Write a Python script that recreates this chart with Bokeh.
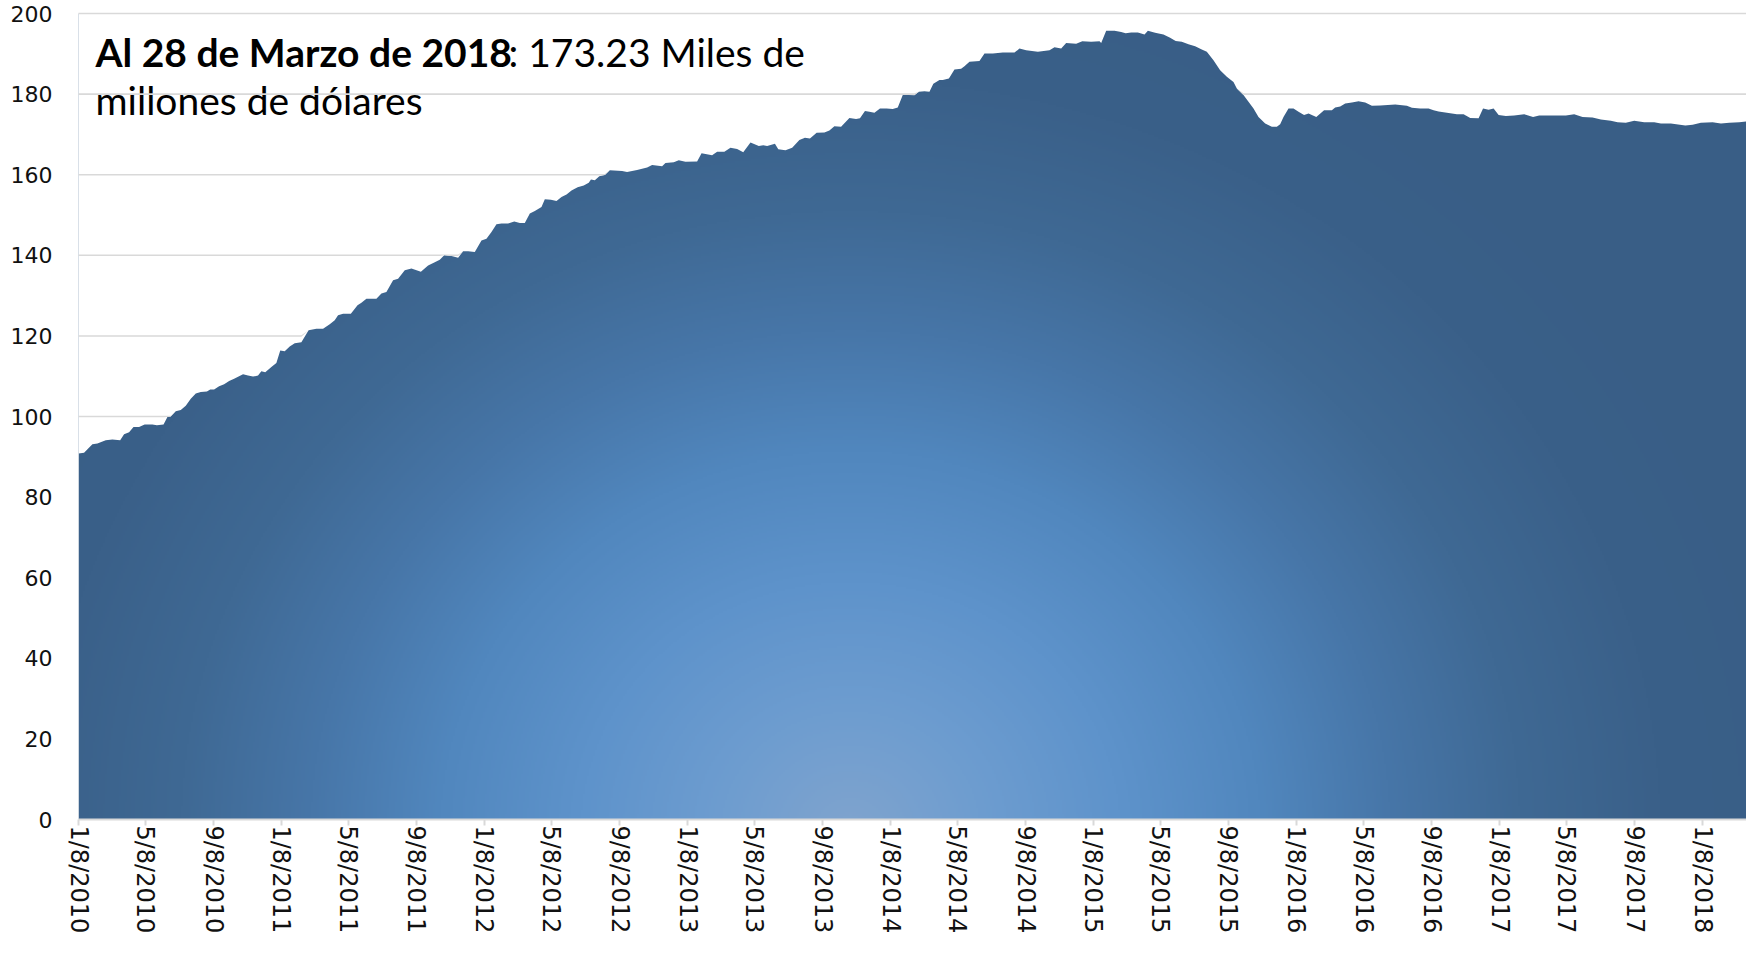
import numpy as np
import pandas as pd
from bokeh.plotting import figure
from bokeh.models import FixedTicker, Label
from bokeh.embed import file_html
from bokeh.resources import INLINE

# ---------------- data ----------------
dates = [
    "2010-01-08", "2010-01-18", "2010-02-02", "2010-02-11", "2010-02-26", "2010-03-10", "2010-03-24",
    "2010-03-31", "2010-04-09", "2010-04-17", "2010-04-27", "2010-05-07", "2010-05-21", "2010-05-29",
    "2010-06-10", "2010-06-17", "2010-06-23", "2010-07-02", "2010-07-11", "2010-07-20", "2010-07-29",
    "2010-08-07", "2010-08-16", "2010-08-27", "2010-09-02", "2010-09-09", "2010-09-18", "2010-09-27",
    "2010-10-06", "2010-10-15", "2010-10-31", "2010-11-09", "2010-11-18", "2010-11-27", "2010-12-03",
    "2010-12-10", "2010-12-21", "2010-12-30", "2011-01-06", "2011-01-14", "2011-01-23", "2011-02-01",
    "2011-02-13", "2011-02-26", "2011-03-12", "2011-03-24", "2011-04-05", "2011-04-14", "2011-04-20",
    "2011-04-29", "2011-05-13", "2011-05-25", "2011-06-01", "2011-06-10", "2011-06-28", "2011-07-07",
    "2011-07-16", "2011-07-28", "2011-08-06", "2011-08-18", "2011-08-30", "2011-09-16", "2011-09-29",
    "2011-10-11", "2011-10-20", "2011-10-28", "2011-11-10", "2011-11-22", "2011-12-01", "2011-12-10",
    "2011-12-22", "2012-01-03", "2012-01-12", "2012-01-21", "2012-01-30", "2012-02-08", "2012-02-20",
    "2012-03-02", "2012-03-12", "2012-03-21", "2012-03-30", "2012-04-08", "2012-04-20", "2012-04-26",
    "2012-05-07", "2012-05-17", "2012-05-26", "2012-06-04", "2012-06-13", "2012-06-24", "2012-07-05",
    "2012-07-14", "2012-07-18", "2012-07-25", "2012-08-02", "2012-08-12", "2012-08-21", "2012-09-12",
    "2012-09-21", "2012-10-09", "2012-10-27", "2012-11-05", "2012-11-23", "2012-11-29", "2012-12-14",
    "2012-12-23", "2013-01-04", "2013-01-25", "2013-02-02", "2013-02-21", "2013-03-02", "2013-03-15",
    "2013-03-26", "2013-04-07", "2013-04-18", "2013-05-01", "2013-05-16", "2013-05-24", "2013-05-31",
    "2013-06-14", "2013-06-20", "2013-07-03", "2013-07-15", "2013-07-28", "2013-08-07", "2013-08-16",
    "2013-08-28", "2013-09-11", "2013-09-20", "2013-09-29", "2013-10-11", "2013-10-26", "2013-11-07",
    "2013-11-14", "2013-11-23", "2013-12-01", "2013-12-10", "2013-12-20", "2014-01-01", "2014-01-12",
    "2014-01-21", "2014-01-30", "2014-02-10", "2014-02-20", "2014-02-28", "2014-03-10", "2014-03-19",
    "2014-03-26", "2014-04-06", "2014-04-12", "2014-04-23", "2014-05-03", "2014-05-15", "2014-05-21",
    "2014-05-30", "2014-06-17", "2014-06-26", "2014-07-11", "2014-07-29", "2014-08-19", "2014-08-28",
    "2014-09-09", "2014-09-30", "2014-10-21", "2014-10-30", "2014-11-11", "2014-11-20", "2014-12-08",
    "2014-12-19", "2015-01-04", "2015-01-19", "2015-01-22", "2015-01-31", "2015-02-15", "2015-02-27",
    "2015-03-07", "2015-03-17", "2015-03-29", "2015-04-10", "2015-04-16", "2015-04-29", "2015-05-14",
    "2015-05-26", "2015-06-05", "2015-06-16", "2015-06-28", "2015-07-10", "2015-07-22", "2015-07-31",
    "2015-08-12", "2015-08-24", "2015-09-05", "2015-09-17", "2015-09-23", "2015-10-05", "2015-10-14",
    "2015-10-23", "2015-11-01", "2015-11-13", "2015-11-25", "2015-12-04", "2015-12-10", "2015-12-16",
    "2015-12-25", "2016-01-03", "2016-01-12", "2016-01-22", "2016-01-30", "2016-02-13", "2016-02-27",
    "2016-03-12", "2016-03-18", "2016-03-27", "2016-04-05", "2016-04-17", "2016-04-29", "2016-05-11",
    "2016-05-23", "2016-06-07", "2016-07-04", "2016-07-25", "2016-08-03", "2016-08-18", "2016-09-02",
    "2016-09-11", "2016-09-20", "2016-10-08", "2016-10-23", "2016-11-04", "2016-11-16", "2016-12-01",
    "2016-12-09", "2016-12-19", "2016-12-28", "2017-01-06", "2017-01-19", "2017-02-03", "2017-02-21",
    "2017-03-09", "2017-03-20", "2017-04-16", "2017-05-07", "2017-05-22", "2017-06-06", "2017-06-24",
    "2017-07-09", "2017-07-27", "2017-08-08", "2017-08-23", "2017-09-07", "2017-09-25", "2017-10-13",
    "2017-10-25", "2017-11-12", "2017-12-08", "2017-12-21", "2018-01-05", "2018-01-26", "2018-02-10",
    "2018-02-25", "2018-03-15", "2018-03-28",
]
reserves = [
    90.8, 91.0, 93.1, 93.3, 94.1, 94.3, 94.1,
    95.6, 96.1, 97.4, 97.4, 98.0, 98.0, 97.8,
    98.0, 99.9, 100.0, 101.3, 101.6, 102.7, 104.4,
    105.7, 106.1, 106.2, 106.7, 106.7, 107.5, 108.0,
    108.8, 109.4, 110.5, 110.2, 109.9, 110.2, 111.2,
    111.0, 112.3, 113.3, 116.4, 116.2, 117.4, 118.2,
    118.4, 121.4, 121.8, 121.8, 122.9, 123.9, 125.1,
    125.5, 125.5, 127.6, 128.2, 129.2, 129.2, 130.5,
    130.9, 133.8, 134.2, 136.3, 136.7, 135.9, 137.5,
    138.3, 138.9, 140.0, 139.8, 139.4, 141.0, 141.0,
    140.8, 143.7, 144.1, 145.8, 147.7, 147.9, 147.9,
    148.4, 148.0, 148.0, 150.4, 151.0, 152.0, 153.9,
    153.8, 153.5, 154.5, 155.1, 156.1, 156.9, 157.3,
    158.0, 158.8, 158.6, 159.6, 159.9, 161.1, 160.9,
    160.7, 161.2, 161.8, 162.4, 162.1, 162.9, 163.1,
    163.6, 163.2, 163.3, 165.3, 164.8, 165.7, 165.7,
    166.7, 166.4, 165.6, 168.0, 167.1, 167.3, 167.1,
    167.7, 166.3, 166.1, 166.7, 168.6, 169.2, 169.0,
    170.4, 170.5, 171.0, 172.0, 171.9, 174.1, 173.8,
    174.0, 175.8, 175.6, 175.4, 176.4, 176.4, 176.3,
    176.7, 179.8, 179.8, 179.7, 180.6, 180.7, 180.6,
    182.6, 183.5, 183.5, 183.9, 186.1, 186.3, 186.9,
    188.0, 188.2, 190.1, 190.1, 190.3, 190.3, 191.3,
    190.9, 190.5, 190.9, 191.6, 191.3, 192.7, 192.5,
    193.1, 193.0, 193.1, 192.7, 195.7, 195.7, 195.4,
    195.1, 195.3, 195.3, 194.8, 195.7, 195.2, 194.8,
    194.0, 193.2, 193.0, 192.4, 191.9, 191.1, 190.5,
    188.4, 185.9, 184.3, 183.0, 181.4, 179.8, 178.1,
    176.4, 174.3, 172.7, 171.9, 171.9, 172.5, 174.3,
    176.4, 176.4, 175.6, 174.8, 175.2, 174.3, 176.0,
    176.0, 176.7, 176.9, 177.7, 177.9, 178.2, 177.9,
    177.1, 177.2, 177.4, 177.1, 176.6, 176.4, 176.4,
    176.0, 175.7, 175.3, 175.0, 175.0, 174.1, 174.0,
    176.4, 176.1, 176.4, 174.8, 174.6, 174.7, 175.0,
    174.3, 174.7, 174.7, 174.7, 175.0, 174.3, 174.2,
    173.7, 173.4, 173.0, 172.9, 173.4, 173.0, 173.0,
    172.7, 172.7, 172.2, 172.4, 172.9, 173.0, 172.7,
    172.9, 173.0, 173.23,
]
tick_labels = [
    "1/8/2010", "5/8/2010", "9/8/2010", "1/8/2011", "5/8/2011", "9/8/2011",
    "1/8/2012", "5/8/2012", "9/8/2012", "1/8/2013", "5/8/2013", "9/8/2013",
    "1/8/2014", "5/8/2014", "9/8/2014", "1/8/2015", "5/8/2015", "9/8/2015",
    "1/8/2016", "5/8/2016", "9/8/2016", "1/8/2017", "5/8/2017", "9/8/2017",
    "1/8/2018",
]
y_ticks = [0, 20, 40, 60, 80, 100, 120, 140, 160, 180, 200]
title_bold = "Al 28 de Marzo de 2018"
title_rest = ": 173.23 Miles de"
title_line2 = "millones de dólares"

# ---------------- derived ----------------
x = pd.to_datetime(dates)
y = np.array(reserves)
tick_dt = pd.to_datetime(tick_labels, format="%m/%d/%Y")
tick_ms = [float(t.value // 10**6) for t in tick_dt]
x0_ms = float(x[0].value // 10**6)
x1_ms = float(x[-1].value // 10**6)
Y_TOP = 200.5

W, H = 1746, 952
ML, MR, MT, MB = 78, 0, 11, 133

p = figure(width=W, height=H, x_axis_type="datetime",
           x_range=(x0_ms, x1_ms), y_range=(0, Y_TOP),
           output_backend="svg", toolbar_location=None,
           min_border_left=ML, min_border_right=MR,
           min_border_top=MT, min_border_bottom=MB)
p.outline_line_color = None
p.xgrid.visible = False
p.ygrid.visible = False
p.background_fill_color = "white"

# ---------- radial gradient background (style) ----------
fw, fh = W - ML - MR, H - MT - MB
nx, ny = fw // 2, fh // 2
cx, cy = 772.0, -12.0           # gradient centre in frame px (from bottom-left)
sx = (np.arange(nx) + 0.5) / nx * fw
sy = (np.arange(ny) + 0.5) / ny * fh * (200.0 / Y_TOP)
XX, YY = np.meshgrid(sx, sy)
R = np.sqrt(((XX - cx) / 1.08) ** 2 + (YY - cy) ** 2)
stops = [0, 120, 250, 380, 500, 620, 750, 900]
cols = ["#80A4CE", "#6E9DD0", "#5E93CB", "#5187BE", "#4776A8", "#3F6994", "#3A6089", "#395E86"]
rgb = np.array([[int(c[i:i + 2], 16) for i in (1, 3, 5)] for c in cols], dtype=float)
img = np.empty((ny, nx), dtype=np.uint32)
view = img.view(dtype=np.uint8).reshape((ny, nx, 4))
for k in range(3):
    view[:, :, k] = np.interp(R, stops, rgb[:, k]).astype(np.uint8)
view[:, :, 3] = 255
p.image_rgba(image=[img], x=x0_ms, y=0, dw=x1_ms - x0_ms, dh=200.0, level="image")
# area above the series hidden with white (the series drives the shape)
p.varea(x=x, y1=y, y2=Y_TOP, fill_color="white", level="underlay")
p.varea(x=x, y1=np.full(len(x), 200.0), y2=Y_TOP, fill_color="white", level="underlay")

# ---------- title text (under the grid lines like the original) ----------
TS = 39
bold_w = 413
lab1 = Label(x=17, y=768, x_units="screen", y_units="screen",
             text=title_bold, text_font="Lato", text_font_style="bold",
             text_font_size=f"{TS}px", text_color="black", text_baseline="alphabetic",
             level="glyph")
lab2 = Label(x=17 + bold_w, y=768, x_units="screen", y_units="screen",
             text=title_rest, text_font="Lato", text_font_size=f"{TS}px",
             text_color="black", text_baseline="alphabetic", level="glyph")
lab3 = Label(x=17, y=720, x_units="screen", y_units="screen",
             text=title_line2, text_font="Lato", text_font_size=f"{TS}px",
             text_color="black", text_baseline="alphabetic", level="glyph")
for lb in (lab1, lab2, lab3):
    p.add_layout(lb)

# ---------- horizontal grid lines, visible only above the area ----------
half = 0.19
for g in y_ticks[1:]:
    p.varea(x=x, y1=np.maximum(y, g - half), y2=np.maximum(y, g + half),
            fill_color="#D9D9D9", level="guide")

# ---------- axes ----------
p.yaxis.ticker = FixedTicker(ticks=y_ticks)
p.yaxis.axis_line_color = None
p.yaxis.major_tick_line_color = None
p.yaxis.minor_tick_line_color = None
p.yaxis.major_label_standoff = 20
p.yaxis.major_label_text_font = "DejaVu Sans"
p.yaxis.major_label_text_font_size = "22px"
p.yaxis.major_label_text_color = "#111111"

p.xaxis.ticker = FixedTicker(ticks=tick_ms)
p.xaxis.major_label_overrides = {t: s for t, s in zip(tick_ms, tick_labels)}
p.xaxis.major_label_orientation = "vertical"
p.xaxis.axis_line_color = "#D9D9D9"
p.xaxis.axis_line_width = 2
p.xaxis.major_tick_line_color = "#D9D9D9"
p.xaxis.major_tick_line_width = 2
p.xaxis.major_tick_in = 0
p.xaxis.major_tick_out = 6
p.xaxis.minor_tick_line_color = None
p.xaxis.major_label_standoff = 0
p.xaxis.major_label_text_font = "DejaVu Sans"
p.xaxis.major_label_text_font_size = "24px"
p.xaxis.major_label_text_color = "#111111"

open("out.html", "w").write(file_html(p, INLINE))
